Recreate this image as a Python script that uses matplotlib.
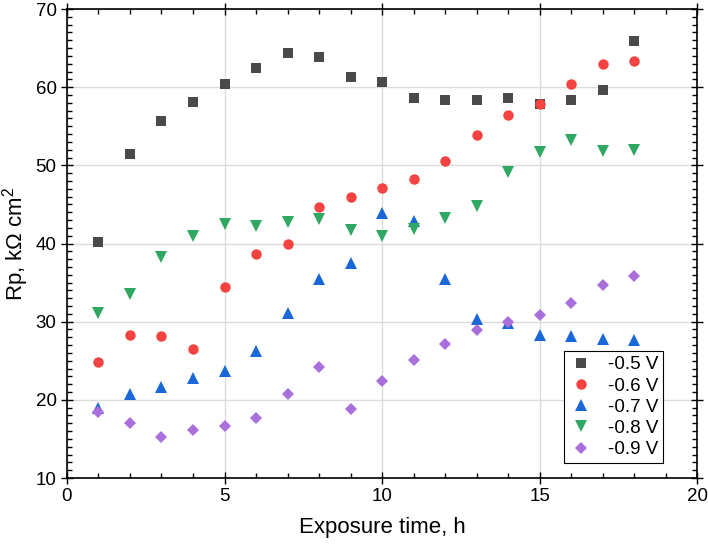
import matplotlib
matplotlib.use('Agg')
import matplotlib.pyplot as plt
from matplotlib.ticker import MultipleLocator

plt.rcParams['font.family'] = ['Liberation Sans', 'DejaVu Sans']
plt.rcParams['mathtext.fontset'] = 'custom'
plt.rcParams['mathtext.rm'] = 'Liberation Sans'
plt.rcParams['mathtext.default'] = 'regular'

hours = list(range(1, 19))
rp_05 = [40.2, 51.4, 55.7, 58.1, 60.4, 62.5, 64.4, 63.9, 61.3, 60.6,
         58.6, 58.4, 58.4, 58.6, 57.9, 58.3, 59.7, 65.9]
rp_06 = [24.9, 28.3, 28.2, 26.5, 34.4, 38.7, 39.9, 44.7, 45.9, 47.1,
         48.3, 50.6, 53.9, 56.5, 57.9, 60.4, 63.0, 63.3]
rp_07 = [19.0, 20.8, 21.6, 22.8, 23.7, 26.3, 31.1, 35.5, 37.5, 43.9,
         42.9, 35.5, 30.4, 29.8, 28.3, 28.2, 27.8, 27.7]
rp_08 = [31.1, 33.6, 38.3, 41.0, 42.5, 42.3, 42.8, 43.1, 41.7, 41.0,
         41.8, 43.3, 44.8, 49.1, 51.7, 53.2, 51.8, 51.9]
rp_09 = [18.4, 17.1, 15.2, 16.1, 16.7, 17.7, 20.7, 24.2, 18.8, 22.4,
         25.1, 27.1, 28.9, 30.0, 30.9, 32.4, 34.7, 35.9]

labels = ['-0.5 V', '-0.6 V', '-0.7 V', '-0.8 V', '-0.9 V']

fig = plt.figure(figsize=(7.08, 5.5), dpi=100)
ax = fig.add_axes([0.0946, 0.1309, 0.89, 0.8527])

ax.plot(hours, rp_05, 's', color='#4a4a4a', ms=7, mew=0, label=labels[0])
ax.plot(hours, rp_06, 'o', color='#f54242', ms=7.5, mew=0, label=labels[1])
ax.plot(hours, rp_07, '^', color='#1a68d8', ms=8.5, mew=0, label=labels[2])
ax.plot(hours, rp_08, 'v', color='#2ea862', ms=8.5, mew=0, label=labels[3])
ax.plot(hours, rp_09, 'D', color='#a96fdc', ms=6.5, mew=0, label=labels[4])

ax.set_xlim(0, 20)
ax.set_ylim(10, 70)
ax.xaxis.set_major_locator(MultipleLocator(5))
ax.xaxis.set_minor_locator(MultipleLocator(1))
ax.yaxis.set_major_locator(MultipleLocator(10))
ax.yaxis.set_minor_locator(MultipleLocator(1))
ax.tick_params(which='both', top=True, right=True, labelsize=13.5)
ax.tick_params(which='major', direction='inout', length=9, width=1, pad=3)
ax.tick_params(which='minor', direction='in', length=3.5, width=1)
for s in ax.spines.values():
    s.set_linewidth(1.2)
ax.grid(True, which='major', color='#dcdcdc', linewidth=1)
ax.set_axisbelow(True)

ax.set_xlabel('Exposure time, h', fontsize=16, labelpad=8)
ax.set_ylabel('Rp, k$\\Omega$ cm$^2$', fontsize=16, labelpad=3)

leg = ax.legend(loc='lower right', bbox_to_anchor=(0.946, 0.032), borderaxespad=0,
                fontsize=13.5, frameon=True, fancybox=False, edgecolor='black',
                framealpha=1, handletextpad=0.8, borderpad=0.25, labelspacing=0.22,
                handlelength=1.3)
leg.get_frame().set_linewidth(0.8)

fig.savefig('out.png', dpi=100)
